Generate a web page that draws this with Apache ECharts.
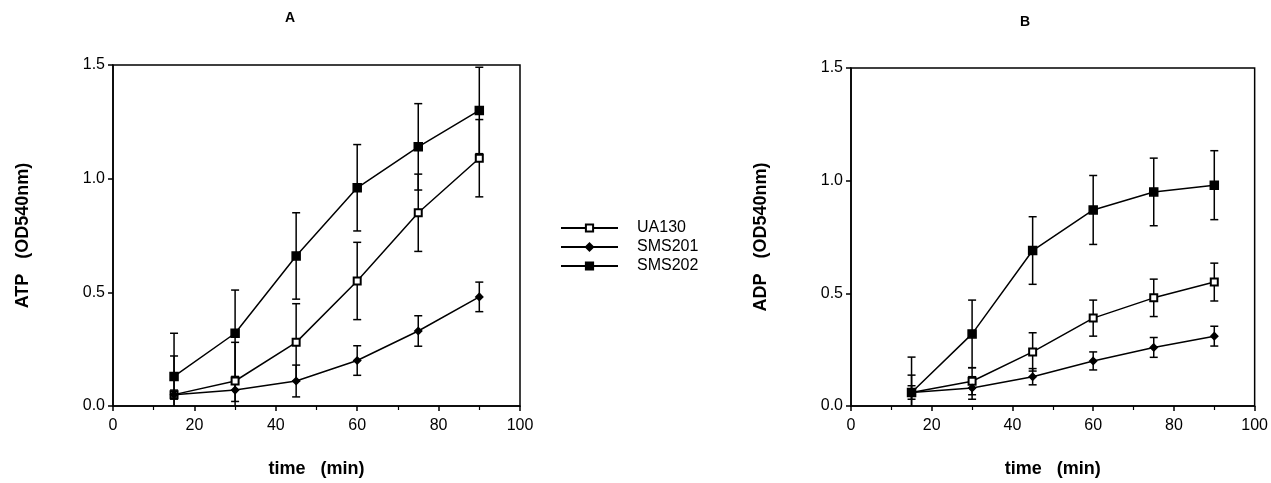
<!DOCTYPE html>
<html>
<head>
<meta charset="utf-8">
<script src="https://cdn.jsdelivr.net/npm/echarts@6/dist/echarts.min.js"></script>
<style>
  html, body { margin: 0; padding: 0; background: #fff; }
  #chart { width: 1271px; height: 483px; }
</style>
</head>
<body>
<div id="chart"></div>
<script>
// time points (min)
var times = [15, 30, 45, 60, 75, 90];

// panel A: ATP
var atpUA130 = [0.05, 0.11, 0.28, 0.55, 0.85, 1.09];
var atpUA130Err = [0.17, 0.17, 0.17, 0.17, 0.17, 0.17];
var atpSMS201 = [0.05, 0.07, 0.11, 0.20, 0.33, 0.48];
var atpSMS201Err = [0.02, 0.05, 0.07, 0.065, 0.067, 0.065];
var atpSMS202 = [0.13, 0.32, 0.66, 0.96, 1.14, 1.30];
var atpSMS202Err = [0.19, 0.19, 0.19, 0.19, 0.19, 0.19];

// panel B: ADP
var adpUA130 = [0.06, 0.11, 0.24, 0.39, 0.48, 0.55];
var adpUA130Err = [0.077, 0.06, 0.085, 0.08, 0.083, 0.084];
var adpSMS201 = [0.06, 0.08, 0.13, 0.20, 0.26, 0.31];
var adpSMS201Err = [0.03, 0.05, 0.036, 0.04, 0.044, 0.044];
var adpSMS202 = [0.06, 0.32, 0.69, 0.87, 0.95, 0.98];
var adpSMS202Err = [0.157, 0.15, 0.15, 0.153, 0.15, 0.153];

var seriesNames = ['UA130', 'SMS201', 'SMS202'];

var FONT = 'Liberation Sans';

function pairs(vals) {
  return times.map(function (t, i) { return [t, vals[i]]; });
}

function errData(vals, errs) {
  return times.map(function (t, i) { return [t, vals[i] - errs[i], vals[i] + errs[i]]; });
}

function renderErr(params, api) {
  var x = api.value(0);
  var lo = api.coord([x, Math.max(0, api.value(1))]);
  var hi = api.coord([x, api.value(2)]);
  var w = 4;
  var st = { stroke: '#000', lineWidth: 1.5 };
  var kids = [
    { type: 'line', shape: { x1: lo[0], y1: lo[1], x2: hi[0], y2: hi[1] }, style: st },
    { type: 'line', shape: { x1: hi[0] - w, y1: hi[1], x2: hi[0] + w, y2: hi[1] }, style: st }
  ];
  if (api.value(1) > 0) {
    kids.push({ type: 'line', shape: { x1: lo[0] - w, y1: lo[1], x2: lo[0] + w, y2: lo[1] }, style: st });
  }
  return { type: 'group', children: kids };
}

var markers = {
  UA130: { symbol: 'emptyRect', symbolSize: 7 },
  SMS201: { symbol: 'diamond', symbolSize: 7 },
  SMS202: { symbol: 'rect', symbolSize: 8 }
};

function lineSeries(name, vals, idx) {
  return {
    name: name,
    type: 'line',
    xAxisIndex: idx,
    yAxisIndex: idx,
    data: pairs(vals),
    symbol: markers[name].symbol,
    symbolSize: markers[name].symbolSize,
    showAllSymbol: true,
    z: 3,
    lineStyle: { color: '#000', width: 1.5 },
    itemStyle: { color: '#000', borderColor: '#000', borderWidth: 1.5 }
  };
}

function errSeries(vals, errs, idx) {
  return {
    type: 'custom',
    xAxisIndex: idx,
    yAxisIndex: idx,
    renderItem: renderErr,
    data: errData(vals, errs),
    silent: true,
    z: 2
  };
}

function xAxisCfg(idx) {
  return {
    type: 'value',
    gridIndex: idx,
    min: 0,
    max: 100,
    interval: 20,
    name: 'time   (min)',
    nameLocation: 'middle',
    nameGap: 54,
    nameTextStyle: { fontFamily: FONT, fontWeight: 'bold', fontSize: 18, color: '#000' },
    axisLine: { lineStyle: { color: '#000', width: 1.5 } },
    axisTick: { length: 5, lineStyle: { color: '#000', width: 1.5 } },
    minorTick: { show: true, splitNumber: 2, length: 4, lineStyle: { color: '#000', width: 1.2 } },
    axisLabel: { fontFamily: FONT, fontSize: 16, color: '#000', margin: 12 },
    splitLine: { show: false }
  };
}

function yAxisCfg(idx, name) {
  return {
    type: 'value',
    gridIndex: idx,
    min: 0,
    max: 1.5,
    interval: 0.5,
    name: name,
    nameLocation: 'middle',
    nameGap: 81,
    nameTextStyle: { fontFamily: FONT, fontWeight: 'bold', fontSize: 18, color: '#000' },
    axisLine: { show: true, lineStyle: { color: '#000', width: 1.5 } },
    axisTick: { show: true, length: 5, lineStyle: { color: '#000', width: 1.5 } },
    axisLabel: {
      fontFamily: FONT, fontSize: 16, color: '#000', margin: 8,
      formatter: function (v) { return v.toFixed(1); }
    },
    splitLine: { show: false }
  };
}

var chart = echarts.init(document.getElementById('chart'), null, { renderer: 'canvas' });

var option = {
  backgroundColor: '#ffffff',
  animation: false,
  title: [
    { text: 'A', left: 280, top: 6, textStyle: { fontFamily: FONT, fontWeight: 'bold', fontSize: 14, color: '#000' } },
    { text: 'B', left: 1015, top: 10, textStyle: { fontFamily: FONT, fontWeight: 'bold', fontSize: 14, color: '#000' } }
  ],
  legend: {
    orient: 'vertical',
    left: 555,
    top: 215,
    itemGap: 3,
    itemWidth: 57,
    itemHeight: 9,
    data: seriesNames,
    textStyle: { fontFamily: FONT, fontSize: 16, color: '#000', padding: [0, 0, 0, 14] }
  },
  grid: [
    { left: 113, top: 65, width: 407, height: 347, show: true, borderColor: '#000', borderWidth: 1.5, backgroundColor: 'transparent' },
    { left: 851, top: 68, width: 404, height: 347, show: true, borderColor: '#000', borderWidth: 1.5, backgroundColor: 'transparent' }
  ],
  xAxis: [xAxisCfg(0), xAxisCfg(1)],
  yAxis: [yAxisCfg(0, 'ATP   (OD540nm)'), yAxisCfg(1, 'ADP   (OD540nm)')],
  series: [
    errSeries(atpUA130, atpUA130Err, 0),
    errSeries(atpSMS201, atpSMS201Err, 0),
    errSeries(atpSMS202, atpSMS202Err, 0),
    lineSeries('UA130', atpUA130, 0),
    lineSeries('SMS201', atpSMS201, 0),
    lineSeries('SMS202', atpSMS202, 0),
    errSeries(adpUA130, adpUA130Err, 1),
    errSeries(adpSMS201, adpSMS201Err, 1),
    errSeries(adpSMS202, adpSMS202Err, 1),
    lineSeries('UA130', adpUA130, 1),
    lineSeries('SMS201', adpSMS201, 1),
    lineSeries('SMS202', adpSMS202, 1)
  ]
};

chart.setOption(option);
</script>
</body>
</html>
